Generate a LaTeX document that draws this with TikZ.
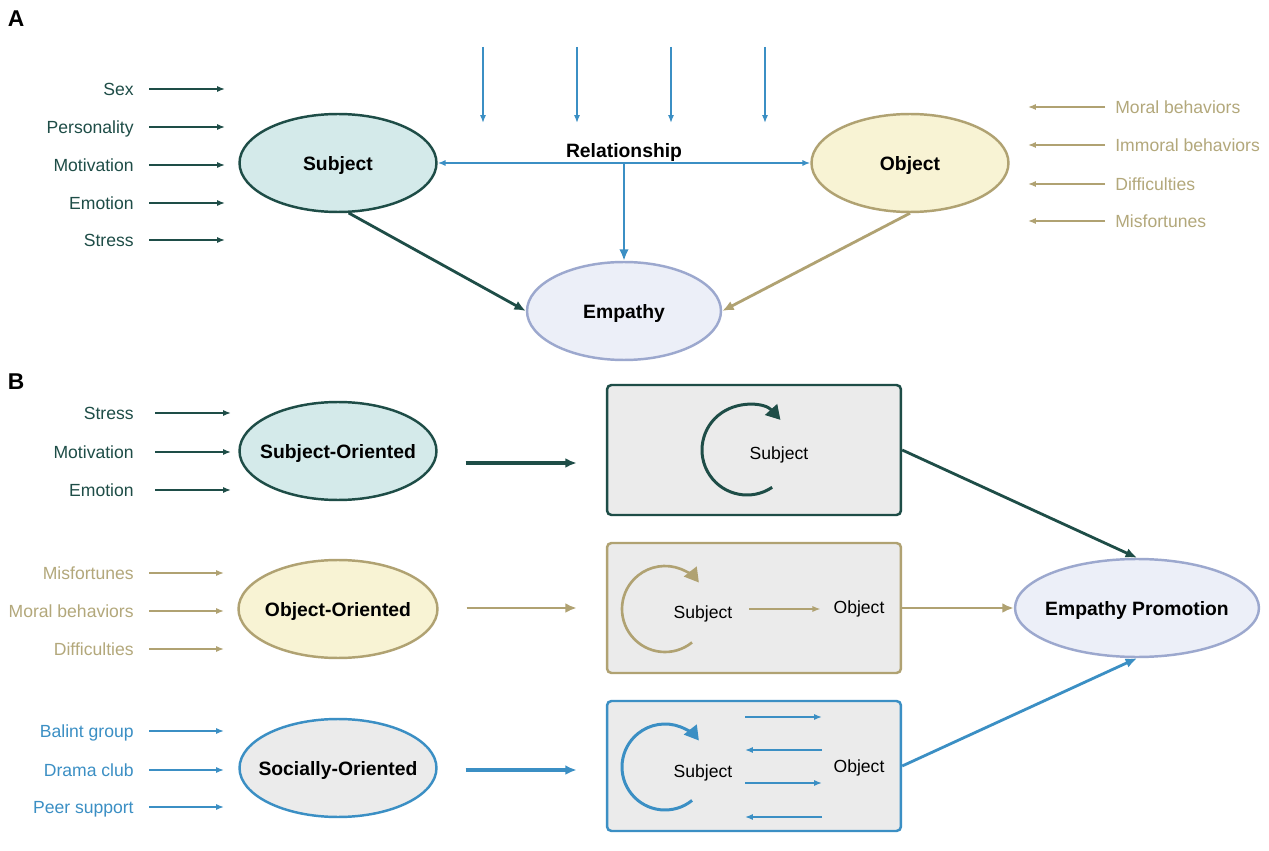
\documentclass[tikz,border=0pt]{standalone}
\usepackage{fontspec}
\setmainfont{Liberation Sans}
\usetikzlibrary{shapes, arrows.meta, positioning, calc}
\definecolor{dkgreen}{HTML}{1E4D47}
\definecolor{tealfill}{HTML}{D4EAEA}
\definecolor{tan}{HTML}{B0A272}
\definecolor{tantext}{HTML}{B3A87B}
\definecolor{tanfill}{HTML}{F8F3D4}
\definecolor{relblue}{HTML}{3B8FC4}
\definecolor{panelgray}{HTML}{EBEBEB}
\definecolor{empfill}{HTML}{ECEFF8}
\definecolor{empline}{HTML}{9CA8CE}

\begin{document}
\begin{tikzpicture}[x=0.02cm, y=0.02cm,
    >={Latex[length=4.5pt,width=3.5pt]},
    oval/.style={draw, ellipse, line width=1.4pt, minimum width=3.94cm, minimum height=1.96cm,
        label={[font=\bfseries\fontsize{11}{13}\selectfont, yshift=-1.5pt]center:#1}},
    lbl/.style={inner sep=0pt, font=\fontsize{10}{12}\selectfont, text height=8.3pt, text depth=1pt},
    panel/.style={draw, rounded corners=2.5pt, fill=panelgray, line width=1.4pt, minimum width=5.88cm, minimum height=2.6cm},
    bigtip/.style={-{Latex[length=6.5pt,width=5.5pt]}},
    selfloop/.style={line width=1.7pt, -{Triangle[length=8pt,width=9pt]}}]
    \fill[white] (0,0) rectangle (1269,-851);
    \useasboundingbox (0,0) rectangle (1269,-851);

    % panel A
    \node[font=\bfseries\fontsize{13}{15}\selectfont] (tagA) at (16,-19) {A};
    \node[oval=Subject, draw=dkgreen, fill=tealfill] (subj) at (338,-163) {};
    \node[oval=Object, draw=tan, fill=tanfill] (obj) at (910,-163) {};
    \node[oval=Empathy, draw=empline, fill=empfill, minimum width=3.88cm] (emp) at (624,-311) {};

    \foreach \txt/\y [count=\i] in {Sex/89, Personality/127, Motivation/165, Emotion/203, Stress/240} {
        \node[lbl, text=dkgreen, anchor=east] (sf\i) at (134,-\y) {\txt};
        \draw[->, dkgreen, line width=1.1pt] (sf\i.east) ++(15,0) -- ++(76,0);
    }
    \foreach \txt/\y [count=\i] in {Moral behaviors/107, Immoral behaviors/145, Difficulties/184, Misfortunes/221} {
        \node[lbl, text=tantext, anchor=west] (of\i) at (1115,-\y) {\txt};
        \draw[->, tan, line width=0.9pt] (of\i.west) ++(-10,0) -- ++(-77,0);
    }
    \foreach \x [count=\i] in {483,577,671,765} {
        \coordinate (in\i) at (\x,-47);
        \draw[->, relblue, line width=1pt] (in\i) -- ++(0,-76);
    }

    \coordinate (rel) at ($(subj)!0.5!(obj)$);
    \node[above=-2.5pt of rel, font=\bfseries\fontsize{11}{13}\selectfont] (reltxt) {Relationship};
    \draw[bigtip, <->, relblue, line width=1.7pt] (subj) -- (obj);
    \draw[bigtip, relblue, line width=1.6pt] (rel) -- (emp);
    \draw[bigtip, dkgreen, line width=1.6pt] (subj.-78) -- (emp.west);
    \draw[bigtip, tan, line width=1.6pt] (obj.south) -- (emp.east);

    % panel B
    \node[font=\bfseries\fontsize{13}{15}\selectfont] (tagB) at (16,-382) {B};
    \node[oval=Subject-Oriented, draw=dkgreen, fill=tealfill] (so) at (338,-451) {};
    \node[oval=Object-Oriented, draw=tan, fill=tanfill, minimum width=3.98cm] (oo) at (338,-609) {};
    \node[oval=Socially-Oriented, draw=relblue, fill=panelgray] (sco) at (338,-768) {};
    \node[oval=Empathy Promotion, draw=empline, fill=empfill, minimum width=4.88cm] (ep) at (1137,-608) {};

    \foreach \txt/\y [count=\i] in {Stress/413, Motivation/452, Emotion/490} {
        \node[lbl, text=dkgreen, anchor=east] (sb\i) at (134,-\y) {\txt};
        \draw[->, dkgreen, line width=1.1pt] (sb\i.east) ++(21,0) -- ++(76,0);
    }
    \foreach \txt/\y [count=\i] in {Misfortunes/573, Moral behaviors/611, Difficulties/649} {
        \node[lbl, text=tantext, anchor=east] (ob\i) at (134,-\y) {\txt};
        \draw[->, tan, line width=0.9pt] (ob\i.east) ++(15,0) -- ++(75,0);
    }
    \foreach \txt/\y [count=\i] in {Balint group/731, Drama club/770, Peer support/807} {
        \node[lbl, text=relblue, anchor=east] (cb\i) at (134,-\y) {\txt};
        \draw[->, relblue, line width=1.1pt] (cb\i.east) ++(15,0) -- ++(75,0);
    }

    \node[panel, draw=dkgreen] (pb1) at (754,-450) {};
    \node[panel, draw=tan] (pb2) at (754,-608) {};
    \node[panel, draw=relblue] (pb3) at (754,-766) {};

    \draw[bigtip, dkgreen, line width=1.9pt] ($(so.east)+(28,-12)$) -- ($(pb1.west)+(-29,-13)$);
    \draw[bigtip, tan, line width=1.4pt] ($(oo.east)+(28,1)$) -- ($(pb2.west)+(-29,0)$);
    \draw[bigtip, relblue, line width=1.9pt] ($(sco.east)+(28,-2)$) -- ($(pb3.west)+(-29,-4)$);

    % inside the panels
    \node[font=\fontsize{10}{12}\selectfont] (s1) at ($(pb1)+(25,-5)$) {Subject};
    \draw[selfloop, dkgreen] ($(pb1)+(-7,0)$) ++(-56:45) arc[start angle=-56, end angle=-318, radius=45];

    \node[font=\fontsize{10}{12}\selectfont] (s2) at ($(pb2)+(-51,-6)$) {Subject};
    \node[font=\fontsize{10}{12}\selectfont] (o2) at ($(pb2)+(105,-1)$) {Object};
    \draw[selfloop, tan, line width=1.5pt] ($(pb2)+(-89,-1)$) ++(-51:43) arc[start angle=-51, end angle=-322, radius=43];
    \draw[->, tan, line width=0.7pt, shorten <=6pt, shorten >=4pt] (s2.east |- o2.west) -- (o2.west);

    \node[font=\fontsize{10}{12}\selectfont] (s3) at ($(pb3)+(-51,-7)$) {Subject};
    \node[font=\fontsize{10}{12}\selectfont] (o3) at ($(pb3)+(105,-2)$) {Object};
    \draw[selfloop, relblue] ($(pb3)+(-89,-1)$) ++(-51:43) arc[start angle=-51, end angle=-322, radius=43];
    \foreach \dy/\a/\b in {49/-9/68, 16/68/-9, -17/-9/68, -51/68/-9}
        \draw[->, relblue, line width=1pt] ($(pb3)+(\a,\dy)$) -- ($(pb3)+(\b,\dy)$);

    \draw[bigtip, dkgreen, line width=1.6pt] (pb1.east) -- (ep.north);
    \draw[bigtip, tan, line width=1.4pt] (pb2.east) -- (ep.west);
    \draw[bigtip, relblue, line width=1.6pt] (pb3.east) -- (ep.south);
\end{tikzpicture}
\end{document}
